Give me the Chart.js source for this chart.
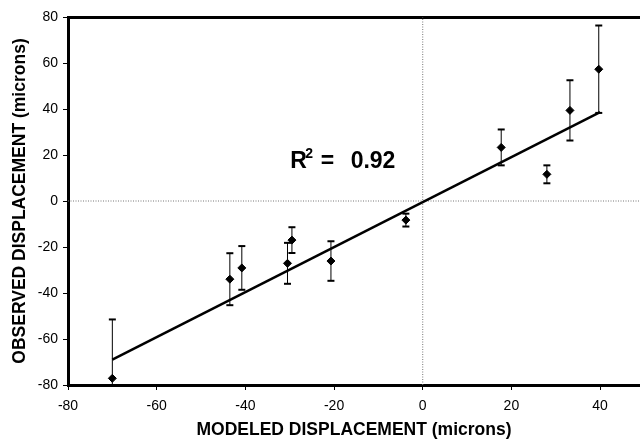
<!DOCTYPE html>
<html><head><meta charset="utf-8">
<script src="https://cdn.jsdelivr.net/npm/chart.js@4"></script>
<style>html,body{margin:0;padding:0;background:#fff;overflow:hidden}</style>
</head><body>
<canvas id="c" width="640" height="441"></canvas>
<script>
// ---- data ----
const modeled  = [-70, -43.5, -40.8, -30.5, -29.5, -20.7, -3.8, 17.7, 28.0, 33.2, 39.7];
const observed = [-77.1, -34.0, -29.1, -27.1, -17.0, -26.1, -8.3, 23.3, 11.6, 39.4, 57.3];
const errors   = [25.6, 11.3, 9.5, 8.9, 5.6, 8.6, 2.8, 7.8, 3.9, 13.1, 19.0];
const fitX = [-70, 40];
const fitY = [-69.0, 38.6];
const xTicks = [-80, -60, -40, -20, 0, 20, 40];
const yTicks = [-80, -60, -40, -20, 0, 20, 40, 60, 80];
const xTitle = 'MODELED DISPLACEMENT (microns)';
const yTitle = 'OBSERVED DISPLACEMENT (microns)';
const r2Value = '0.92';
const r2Anchor = [-29.9, 14.2];

const FONT = '"Liberation Sans", Arial, sans-serif';

const datasets = [];
// markers (first = drawn on top)
datasets.push({
  data: modeled.map((x, i) => ({x, y: observed[i]})),
  pointStyle: 'rectRot', pointRadius: 4, pointBackgroundColor: '#000',
  pointBorderColor: '#000', pointBorderWidth: 1, showLine: false
});
// fitted line
datasets.push({
  data: fitX.map((x, i) => ({x, y: fitY[i]})),
  showLine: true, borderColor: '#000', borderWidth: 2.5, pointRadius: 0, fill: false
});
// error bars
modeled.forEach((x, i) => {
  datasets.push({
    data: [{x, y: observed[i] - errors[i]}, {x, y: observed[i] + errors[i]}],
    showLine: true, borderColor: '#000', borderWidth: 1,
    pointStyle: 'line', pointRadius: 3.5, pointBorderWidth: 2,
    pointBorderColor: '#000', pointBackgroundColor: '#000'
  });
});
// dotted zero lines
datasets.push({
  data: [{x: 0, y: -80}, {x: 0, y: 80}], showLine: true,
  borderColor: '#777', borderWidth: 1, borderDash: [1, 1.5], pointRadius: 0
});
datasets.push({
  data: [{x: -80, y: 0}, {x: 49, y: 0}], showLine: true,
  borderColor: '#777', borderWidth: 1, borderDash: [1, 1.5], pointRadius: 0
});

const r2Plugin = {
  id: 'r2',
  afterDatasetsDraw(chart) {
    const {ctx, scales} = chart;
    const px = scales.x.getPixelForValue(r2Anchor[0]);
    const py = scales.y.getPixelForValue(r2Anchor[1]);
    ctx.save();
    ctx.fillStyle = '#000';
    ctx.textBaseline = 'alphabetic';
    ctx.textAlign = 'left';
    ctx.font = 'bold 23px ' + FONT;
    ctx.fillText('R', px, py);
    ctx.fillText('=', px + 30.5, py);
    ctx.fillText(r2Value, px + 60.5, py);
    ctx.font = 'bold 14px ' + FONT;
    ctx.fillText('2', px + 15, py - 10);
    ctx.restore();
  }
};

const axisCommon = {
  type: 'linear',
  grid: { display: true, drawOnChartArea: false, drawTicks: true, tickLength: 5, color: '#000', lineWidth: 1 },
  border: { display: true, width: 3, color: '#000' },
};

new Chart(document.getElementById('c'), {
  type: 'scatter',
  data: { datasets },
  options: {
    responsive: false, animation: false, devicePixelRatio: 1,
    layout: { padding: 0, autoPadding: false },
    plugins: { legend: { display: false }, tooltip: { enabled: false } },
    scales: {
      x: Object.assign({}, axisCommon, {
        position: 'bottom', min: -80, max: 49,
        afterBuildTicks: s => { s.ticks = xTicks.map(v => ({value: v})); },
        afterFit: s => { s.height = 56; s.paddingLeft = 0; s.paddingRight = 0; },
        ticks: { color: '#000', font: { family: FONT, size: 14 }, padding: 8, maxRotation: 0 },
        title: { display: true, text: xTitle, color: '#000',
                 font: { family: FONT, size: 17.5, weight: 'bold' }, padding: { top: 0, bottom: 0 } }
      }),
      x2: {
        type: 'linear', axis: 'x', position: 'top', min: -80, max: 49,
        ticks: { display: false }, grid: { display: false },
        border: { display: true, width: 3, color: '#000' },
        afterFit: s => { s.height = 17; s.paddingLeft = 0; s.paddingRight = 0; }
      },
      y: Object.assign({}, axisCommon, {
        position: 'left', min: -80, max: 80,
        afterBuildTicks: s => { s.ticks = yTicks.map(v => ({value: v})); },
        afterFit: s => { s.width = 68; },
        ticks: { color: '#000', font: { family: FONT, size: 14 }, padding: 5 },
        title: { display: true, text: yTitle, color: '#000',
                 font: { family: FONT, size: 17.5, weight: 'bold' }, padding: { top: 9.5, bottom: 0 } }
      })
    }
  },
  plugins: [r2Plugin]
});
</script>
</body></html>
